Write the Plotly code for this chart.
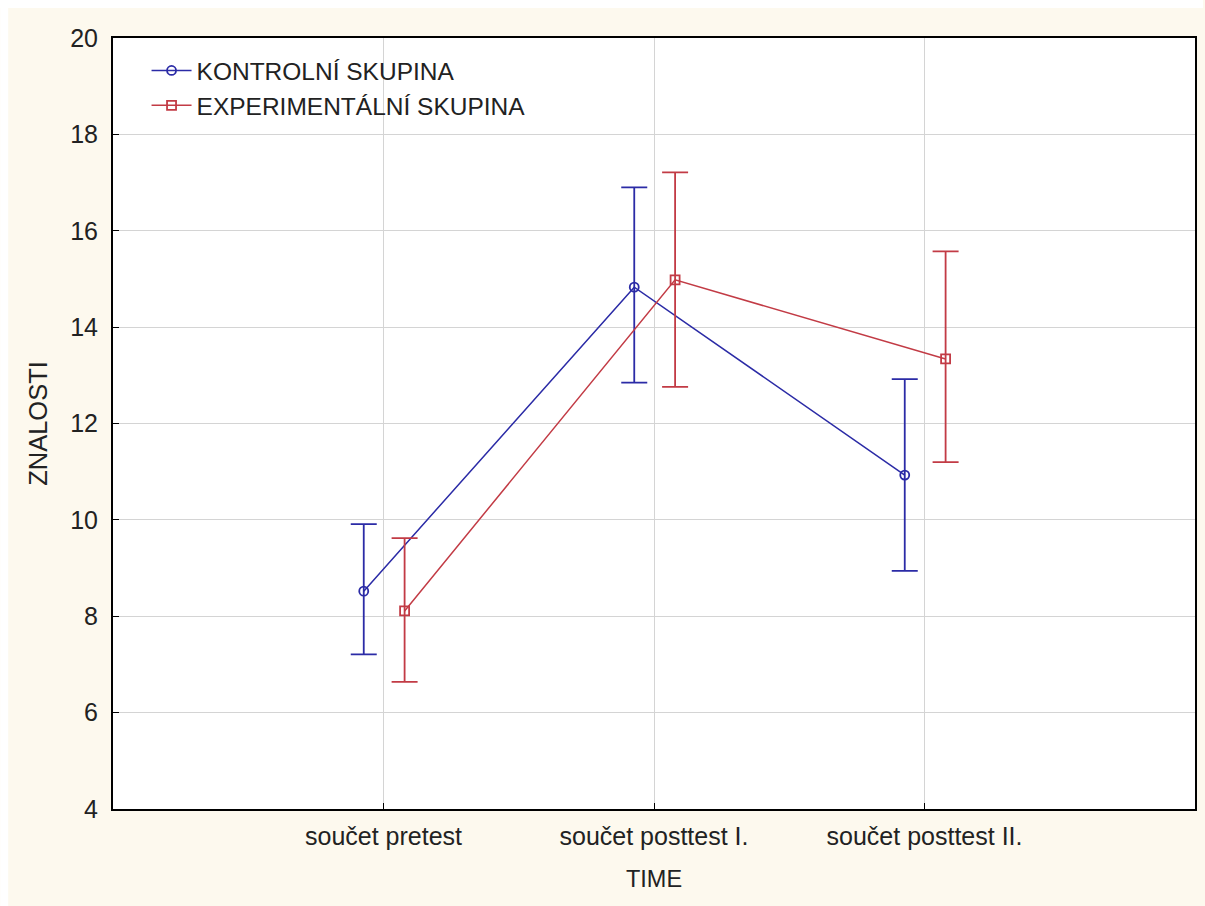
import plotly.graph_objects as go

# Categories on the time axis
categories = ["součet pretest", "součet posttest I.", "součet posttest II."]

# Group means with upper/lower limits of the error bars
kontrol_mean = [8.52, 14.83, 10.93]
kontrol_upper = [9.91, 16.90, 12.92]
kontrol_lower = [7.21, 12.85, 8.94]

exper_mean = [8.11, 14.98, 13.34]
exper_upper = [9.62, 17.21, 15.57]
exper_lower = [6.64, 12.76, 11.20]

y_ticks = [4, 6, 8, 10, 12, 14, 16, 18, 20]

BLUE = "#2b2ba6"
RED = "#c23b45"
CREAM = "#fdf9ee"
TEXT = "#222222"
FONT = "Liberation Sans, Arial, sans-serif"

pos = list(range(len(categories)))
dodge = {"k": -0.073, "e": 0.078}


def series(name, mean, upper, lower, shift, color, symbol):
    return go.Scatter(
        x=[p + shift for p in pos],
        y=mean,
        name=name,
        mode="lines+markers",
        line=dict(color=color, width=1.5),
        marker=dict(symbol=symbol, size=9, color=color, line=dict(color=color, width=1.8)),
        error_y=dict(
            type="data",
            symmetric=False,
            array=[u - m for u, m in zip(upper, mean)],
            arrayminus=[m - l for m, l in zip(mean, lower)],
            color=color,
            thickness=1.8,
            width=13,
        ),
    )


fig = go.Figure()
fig.add_trace(series("KONTROLNÍ SKUPINA", kontrol_mean, kontrol_upper, kontrol_lower,
                     dodge["k"], BLUE, "circle-open"))
fig.add_trace(series("EXPERIMENTÁLNÍ SKUPINA", exper_mean, exper_upper, exper_lower,
                     dodge["e"], RED, "square-open"))

tick_font = dict(family=FONT, size=25, color=TEXT)

fig.update_layout(
    width=1205,
    height=906,
    margin=dict(l=113, r=8, t=38, b=97),
    paper_bgcolor=CREAM,
    plot_bgcolor="white",
    font=dict(family=FONT, size=25, color=TEXT),
    showlegend=True,
    legend=dict(
        x=0.031, y=0.987, xanchor="left", yanchor="top",
        bgcolor="rgba(0,0,0,0)", borderwidth=0,
        font=dict(family=FONT, size=24.5, color=TEXT),
        tracegroupgap=0, itemwidth=40,
    ),
    xaxis=dict(
        range=[-1, 3],
        tickmode="array",
        tickvals=pos,
        ticktext=categories,
        tickfont=tick_font,
        ticks="inside", ticklen=6, tickcolor="black",
        ticklabelstandoff=4,
        showgrid=True, gridcolor="#d4d4d4", gridwidth=1,
        showline=True, linecolor="black", linewidth=2, mirror=True,
        zeroline=False,
        title=dict(text="TIME", standoff=22, font=dict(family=FONT, size=23.5, color=TEXT)),
    ),
    yaxis=dict(
        range=[4, 20],
        tickmode="array",
        tickvals=y_ticks,
        tickfont=tick_font,
        ticks="inside", ticklen=6, tickcolor="black",
        ticklabelstandoff=8,
        showgrid=True, gridcolor="#d4d4d4", gridwidth=1,
        showline=True, linecolor="black", linewidth=2, mirror=True,
        zeroline=False,
        title=dict(text="ZNALOSTI", standoff=15, font=dict(family=FONT, size=25.5, color=TEXT)),
    ),
    shapes=[
        # thin white strips along the top and left page edges
        dict(type="rect", xref="paper", yref="paper", layer="below",
             x0=-113 / 1084, x1=1 + 8 / 1084, y0=1 + 30 / 771, y1=1 + 38 / 771,
             fillcolor="white", line=dict(width=0)),
        dict(type="rect", xref="paper", yref="paper", layer="below",
             x0=-113 / 1084, x1=-105 / 1084, y0=-97 / 771, y1=1 + 38 / 771,
             fillcolor="white", line=dict(width=0)),
    ],
)

fig.write_html("out.html")
